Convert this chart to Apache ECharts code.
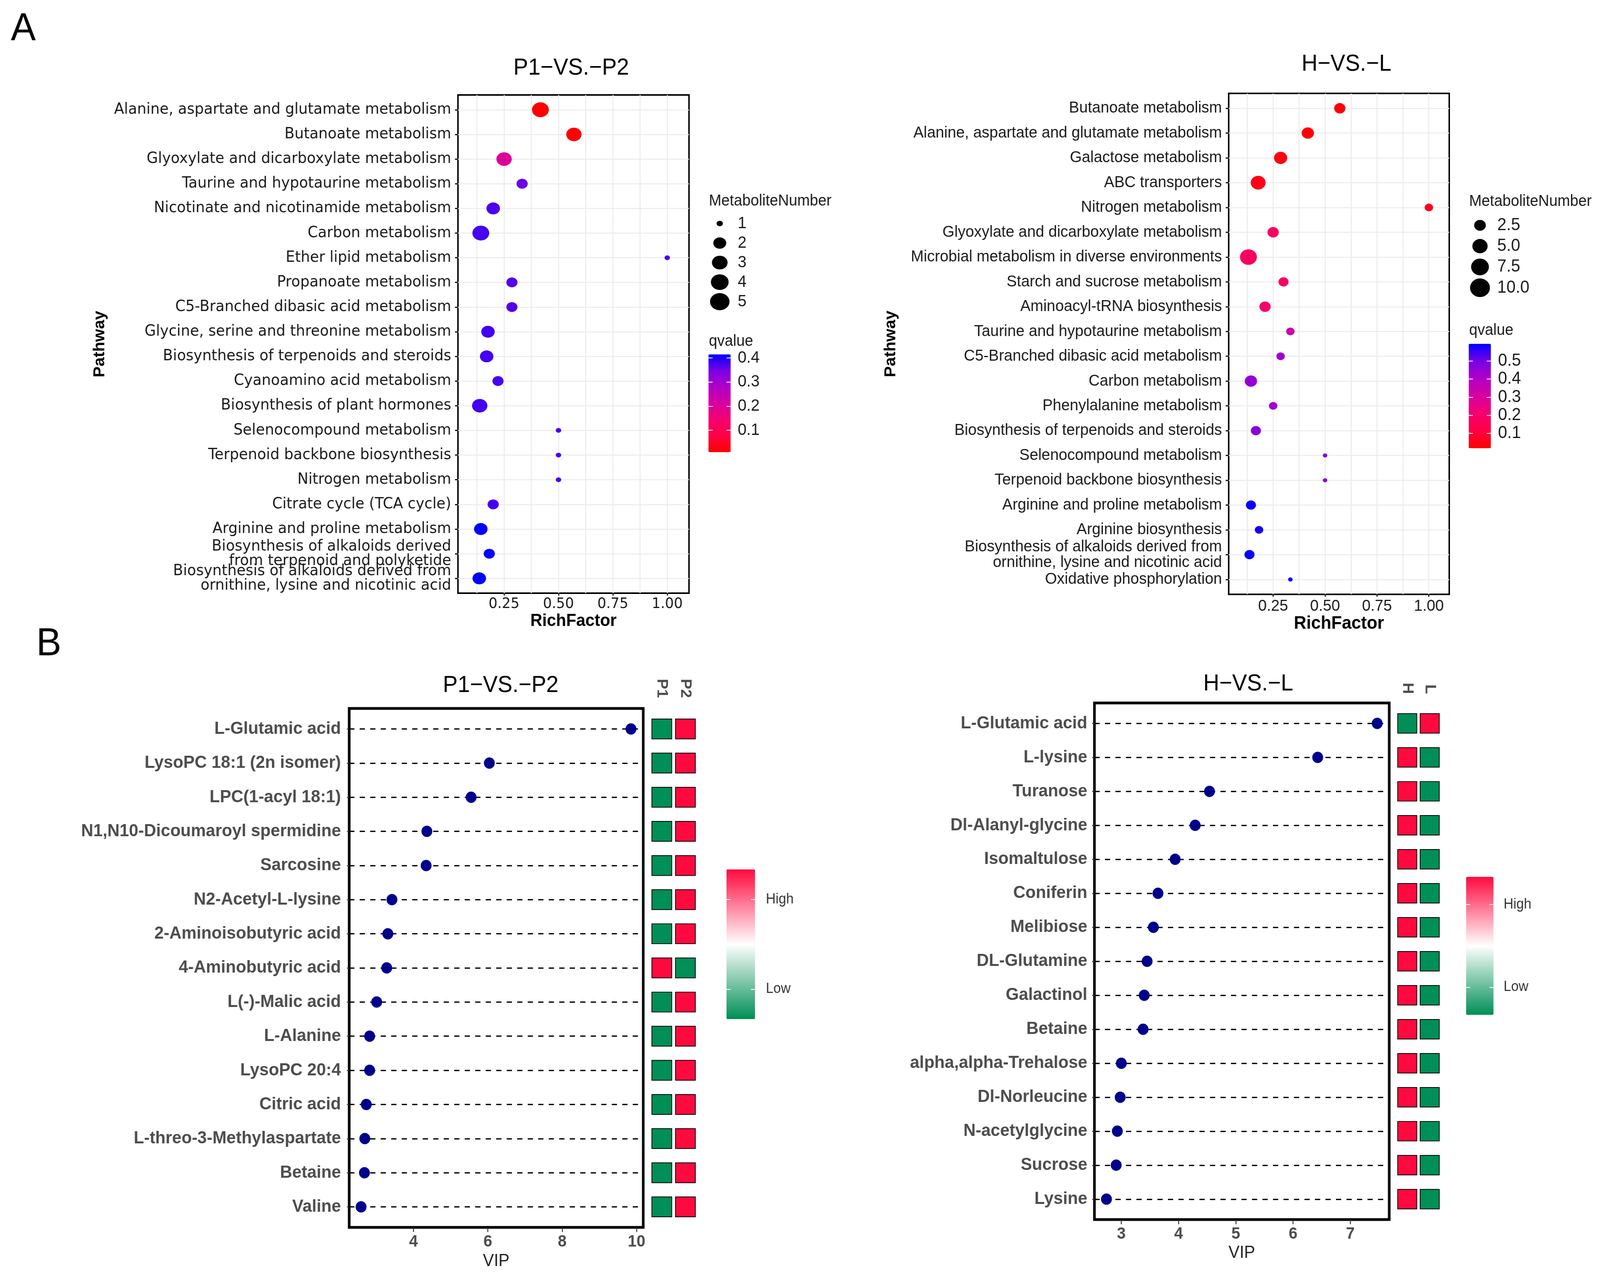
<!DOCTYPE html>
<html>
<head>
<meta charset="utf-8">
<title>Pathway enrichment and VIP</title>
<script src="https://cdn.jsdelivr.net/npm/echarts@6.0.0/dist/echarts.min.js"></script>
<style>
  html, body { margin: 0; padding: 0; background: #fff; overflow: hidden; }
  #main { width: 4266px; height: 3268px; }
</style>
</head>
<body>
<div id="main"></div>
<script>
// A 左: P1-VS.-P2 富集通路
var pathwaysP = [
  'Alanine, aspartate and glutamate metabolism',
  'Butanoate metabolism',
  'Glyoxylate and dicarboxylate metabolism',
  'Taurine and hypotaurine metabolism',
  'Nicotinate and nicotinamide metabolism',
  'Carbon metabolism',
  'Ether lipid metabolism',
  'Propanoate metabolism',
  'C5-Branched dibasic acid metabolism',
  'Glycine, serine and threonine metabolism',
  'Biosynthesis of terpenoids and steroids',
  'Cyanoamino acid metabolism',
  'Biosynthesis of plant hormones',
  'Selenocompound metabolism',
  'Terpenoid backbone biosynthesis',
  'Nitrogen metabolism',
  'Citrate cycle (TCA cycle)',
  'Arginine and proline metabolism',
  'Biosynthesis of alkaloids derived\nfrom terpenoid and polyketide',
  'Biosynthesis of alkaloids derived from\nornithine, lysine and nicotinic acid'
];
var richP = [0.417, 0.571, 0.25, 0.333, 0.2, 0.143, 1.0, 0.286, 0.286, 0.176,
             0.17, 0.222, 0.138, 0.5, 0.5, 0.5, 0.2, 0.143, 0.182, 0.136];
var countP = [5, 4, 4, 2, 3, 5, 1, 2, 2, 3, 3, 2, 4, 1, 1, 1, 2, 3, 2, 3];
var qvalueP = [0.009, 0.012, 0.2, 0.355, 0.372, 0.375, 0.372, 0.368, 0.368, 0.378,
               0.378, 0.375, 0.378, 0.375, 0.375, 0.375, 0.375, 0.413, 0.41, 0.413];

// A 右: H-VS.-L 富集通路
var pathwaysH = [
  'Butanoate metabolism',
  'Alanine, aspartate and glutamate metabolism',
  'Galactose metabolism',
  'ABC transporters',
  'Nitrogen metabolism',
  'Glyoxylate and dicarboxylate metabolism',
  'Microbial metabolism in diverse environments',
  'Starch and sucrose metabolism',
  'Aminoacyl-tRNA biosynthesis',
  'Taurine and hypotaurine metabolism',
  'C5-Branched dibasic acid metabolism',
  'Carbon metabolism',
  'Phenylalanine metabolism',
  'Biosynthesis of terpenoids and steroids',
  'Selenocompound metabolism',
  'Terpenoid backbone biosynthesis',
  'Arginine and proline metabolism',
  'Arginine biosynthesis',
  'Biosynthesis of alkaloids derived from\nornithine, lysine and nicotinic acid',
  'Oxidative phosphorylation'
];
var richH = [0.571, 0.417, 0.286, 0.178, 1.0, 0.25, 0.131, 0.3, 0.211, 0.333,
             0.286, 0.143, 0.25, 0.167, 0.5, 0.5, 0.143, 0.182, 0.136, 0.333];
var countH = [4, 5, 6, 8, 2, 4, 11, 3, 4, 2, 2, 5, 2, 3, 1, 1, 3, 2, 3, 1];
var qvalueH = [0.025, 0.03, 0.04, 0.05, 0.06, 0.17, 0.17, 0.18, 0.2, 0.33,
               0.43, 0.45, 0.43, 0.47, 0.47, 0.47, 0.59, 0.58, 0.592, 0.592];

// B 左: P1-VS.-P2 VIP
var metabolitesP = [
  'L-Glutamic acid', 'LysoPC 18:1 (2n isomer)', 'LPC(1-acyl 18:1)',
  'N1,N10-Dicoumaroyl spermidine', 'Sarcosine', 'N2-Acetyl-L-lysine',
  '2-Aminoisobutyric acid', '4-Aminobutyric acid', 'L(-)-Malic acid',
  'L-Alanine', 'LysoPC 20:4', 'Citric acid', 'L-threo-3-Methylaspartate',
  'Betaine', 'Valine'
];
var vipP = [9.85, 6.04, 5.55, 4.36, 4.34, 3.42, 3.31, 3.28, 3.01, 2.82, 2.82, 2.73, 2.69, 2.68, 2.59];
var groupsP = ['P1', 'P2'];
var levelP1 = [0, 0, 0, 0, 0, 0, 0, 1, 0, 0, 0, 0, 0, 0, 0]; // 1 = High, 0 = Low
var levelP2 = [1, 1, 1, 1, 1, 1, 1, 0, 1, 1, 1, 1, 1, 1, 1];

// B 右: H-VS.-L VIP
var metabolitesH = [
  'L-Glutamic acid', 'L-lysine', 'Turanose', 'Dl-Alanyl-glycine', 'Isomaltulose',
  'Coniferin', 'Melibiose', 'DL-Glutamine', 'Galactinol', 'Betaine',
  'alpha,alpha-Trehalose', 'Dl-Norleucine', 'N-acetylglycine', 'Sucrose', 'Lysine'
];
var vipH = [7.47, 6.43, 4.54, 4.29, 3.94, 3.64, 3.56, 3.45, 3.40, 3.38, 3.00, 2.98, 2.93, 2.91, 2.74];
var groupsH = ['H', 'L'];
var levelH = [0, 1, 1, 1, 1, 1, 1, 1, 1, 1, 1, 1, 1, 1, 1];
var levelL = [1, 0, 0, 0, 0, 0, 0, 0, 0, 0, 0, 0, 0, 0, 0];

// 刻度 / 图例
var richTicks = [0.25, 0.5, 0.75, 1.0];
var richGridLines = [0.125, 0.25, 0.375, 0.5, 0.625, 0.75, 0.875, 1.0];
var vipTicksP = [4, 6, 8, 10];
var vipTicksH = [3, 4, 5, 6, 7];
var sizeBreaksP = [1, 2, 3, 4, 5];
var sizeBreaksH = [2.5, 5, 7.5, 10];
var qTicksP = [0.1, 0.2, 0.3, 0.4];
var qTicksH = [0.1, 0.2, 0.3, 0.4, 0.5];
var levelTicks = [0.2, 0.8];
var levelNames = ['Low', 'High'];

var FONT = "'Liberation Sans', Arial, sans-serif";
var WIDE = "'DejaVu Sans', sans-serif";
var qColors = ['#FF0000', '#FF0044', '#F50070', '#D800A0', '#B000C6', '#7A00E5', '#0000FF'];
var levelColors = ['#008F56', '#FFFFFF', '#FF0A3F'];
// 原图 A 部分横向略有拉伸, 气泡画成椭圆
var ELLIPSE = 'path://M1,0A1,1,0,1,1,-1,0A1,1,0,1,1,1,0Z';

// 面积比例尺: 直径 ~ sqrt(数量)
function sP(n) { return Math.sqrt((n - 1) / 4); }
function sH(n) { return Math.sqrt((n - 1) / 10); }
function bubbleP(n) { var w = 14.5 + 30.5 * sP(n); return [w, w / 1.18]; }
function bubbleH(n) { var w = 12 + 33 * sH(n); return [w, w / 1.13]; }
function keyP(n) { return [17 + 35 * sP(n), 14 + 30 * sP(n)]; }
function keyH(n) { return [15.9 + 39.1 * sH(n), 14.2 + 35.6 * sH(n)]; }
function rowIndex(n) { var a = []; for (var i = 0; i < n; i++) a.push(i); return a; }
function everyOther(rows, start) { return rows.filter(function (r) { return r % 2 === start; }); }

function enrichData(rich, count, q) {
  var out = [];
  for (var i = 0; i < rich.length; i++) out.push([rich[i], i, count[i], q[i]]);
  return out;
}
function vipData(vip) {
  var out = [];
  for (var i = 0; i < vip.length; i++) out.push([vip[i], i]);
  return out;
}
function levelData(a, b) {
  var out = [];
  for (var i = 0; i < a.length; i++) { out.push([0, i, a[i]]); out.push([1, i, b[i]]); }
  return out;
}
function legendData(breaks) {
  var out = [];
  for (var i = 0; i < breaks.length; i++) out.push([0, i, breaks[i]]);
  return out;
}

var rowsP = rowIndex(pathwaysP.length), rowsH = rowIndex(pathwaysH.length);
var rowsBP = rowIndex(metabolitesP.length), rowsBH = rowIndex(metabolitesH.length);

function plainGrid(l, t, w, h) {
  return { left: l, top: t, width: w, height: h, outerBoundsMode: 'none', containLabel: false };
}
function boxGrid(l, t, w, h, bw) {
  var g = plainGrid(l, t, w, h);
  g.show = true; g.borderColor = '#000'; g.borderWidth = bw; g.backgroundColor = '#fff';
  return g;
}

// x 轴 (RichFactor)
function richAxis(grid, min, max, font, size, nameSize) {
  return {
    gridIndex: grid, type: 'value', min: min, max: max, position: 'bottom',
    axisLine: { show: false, onZero: false },
    axisTick: { customValues: richTicks, length: 6, lineStyle: { color: '#111', width: 3 } },
    axisLabel: { customValues: richTicks, margin: 10, fontSize: size, fontFamily: font, color: '#1a1a1a',
                 showMinLabel: true, showMaxLabel: true,
                 formatter: function (v) { return v.toFixed(2); } },
    splitLine: { show: false },
    name: 'RichFactor', nameLocation: 'middle', nameGap: 50,
    nameTextStyle: { fontSize: nameSize, fontWeight: 'bold', fontFamily: FONT, color: '#000' }
  };
}
function richMinorAxis(grid, min, max) {
  return {
    gridIndex: grid, type: 'value', min: min, max: max, position: 'top',
    axisLine: { show: false, onZero: false },
    axisTick: { show: false, customValues: richGridLines },
    axisLabel: { show: false },
    splitLine: { show: true, lineStyle: { color: '#EBEBEB', width: 2.5 } }
  };
}
// 通路名分两根重叠的轴 (偶数行/奇数行), 防止相邻两行标签互相隐藏
function pathwayAxis(grid, names, rows, font, size, lh, gap) {
  return {
    gridIndex: grid, type: 'value', inverse: true, min: -0.6, max: names.length - 0.4, position: 'left',
    axisLine: { show: false, onZero: false },
    axisTick: { customValues: rows, length: 8, lineStyle: { color: '#111', width: 3 } },
    axisLabel: { customValues: everyOther(rows, 0), margin: 18, fontSize: size, fontFamily: font, color: '#1a1a1a',
                 lineHeight: lh, showMinLabel: true, showMaxLabel: true, hideOverlap: false,
                 formatter: function (v) { return names[Math.round(v)]; } },
    splitLine: { show: true, lineStyle: { color: '#EBEBEB', width: 2.5 } },
    name: 'Pathway', nameLocation: 'middle', nameGap: gap,
    nameTextStyle: { fontSize: 42, fontWeight: 'bold', fontFamily: FONT, color: '#000' }
  };
}
function pathwayOddAxis(grid, names, rows, font, size, lh) {
  return {
    gridIndex: grid, type: 'value', inverse: true, min: -0.6, max: names.length - 0.4, position: 'left',
    axisLine: { show: false, onZero: false },
    axisTick: { show: false },
    axisLabel: { customValues: everyOther(rows, 1), margin: 18, fontSize: size, fontFamily: font, color: '#1a1a1a',
                 lineHeight: lh, showMinLabel: true, showMaxLabel: true, hideOverlap: false,
                 formatter: function (v) { return names[Math.round(v)]; } },
    splitLine: { show: false }
  };
}
function vipAxis(grid, min, max, ticks, margin, gap) {
  return {
    gridIndex: grid, type: 'value', min: min, max: max, position: 'bottom',
    axisLine: { show: false, onZero: false },
    axisTick: { customValues: ticks, length: 12, lineStyle: { color: '#333', width: 2.5 } },
    axisLabel: { customValues: ticks, margin: margin, fontSize: 42, fontWeight: 'bold', fontFamily: FONT, color: '#4D4D4D',
                 showMinLabel: true, showMaxLabel: true },
    splitLine: { show: false },
    name: 'VIP', nameLocation: 'middle', nameGap: gap,
    nameTextStyle: { fontSize: 44, fontFamily: FONT, color: '#222' }
  };
}
function metaboliteAxis(grid, names, rows, margin) {
  return {
    gridIndex: grid, type: 'value', inverse: true, min: -0.6, max: names.length - 0.4,
    axisLine: { show: false, onZero: false },
    axisTick: { customValues: rows, length: 6, lineStyle: { color: '#333', width: 2.5 } },
    axisLabel: { customValues: rows, margin: margin, fontSize: 45, fontWeight: 'bold', fontFamily: FONT, color: '#4D4D4D',
                 showMinLabel: true, showMaxLabel: true,
                 formatter: function (v) { return names[Math.round(v)]; } },
    splitLine: { show: true, lineStyle: { color: '#000', width: 3.3, type: [14, 14] } }
  };
}
function groupAxis(grid, groups, margin) {
  return {
    gridIndex: grid, type: 'category', data: groups, position: 'top',
    axisLine: { show: false, onZero: false }, axisTick: { show: false }, splitLine: { show: false },
    axisLabel: { interval: 0, rotate: 90, margin: margin, fontSize: 40, fontWeight: 'bold', fontFamily: FONT, color: '#4D4D4D' }
  };
}
function hiddenValue(grid, min, max, inverse) {
  return { gridIndex: grid, type: 'value', min: min, max: max, inverse: !!inverse, show: false,
           axisLine: { onZero: false } };
}
function legendAxis(grid, labels, margin, size) {
  return {
    gridIndex: grid, type: 'category', data: labels, inverse: true, position: 'right',
    axisLine: { show: false, onZero: false }, axisTick: { show: false }, splitLine: { show: false },
    axisLabel: { interval: 0, margin: margin, fontSize: size, fontFamily: FONT, color: '#1a1a1a' }
  };
}
// 色条刻度 (白色内刻度)
function barAxis(grid, pos, min, max, ticks, margin, size, fmt, withLabel) {
  return {
    gridIndex: grid, type: 'value', position: pos, min: min, max: max, z: 10,
    axisLine: { show: false, onZero: false },
    axisTick: { inside: true, length: 11, customValues: ticks, lineStyle: { color: '#fff', width: 2 } },
    axisLabel: { show: !!withLabel, customValues: ticks, margin: margin, fontSize: size, fontFamily: FONT,
                 showMinLabel: true, showMaxLabel: true,
                 color: withLabel === 'hl' ? '#333' : '#1a1a1a', formatter: fmt },
    splitLine: { show: false }
  };
}
var qFmt = function (v) { return v.toFixed(1); };
var lvFmt = function (v) { return levelNames[levelTicks.indexOf(v)]; };

function textTitle(text, x, y, size, align, color) {
  return {
    text: text, left: x, top: y, padding: 0, textAlign: align || 'center', textVerticalAlign: 'middle',
    textStyle: { fontSize: size, fontWeight: 'normal', fontFamily: FONT, color: color || '#000' }
  };
}

var option = {
  backgroundColor: '#fff',
  animation: false,
  title: [
    textTitle('A', 62, 75, 100),
    textTitle('B', 130, 1649, 100),
    textTitle('P1\u2212VS.\u2212P2', 1523, 175, 59),
    textTitle('H\u2212VS.\u2212L', 3590, 165, 59),
    textTitle('P1\u2212VS.\u2212P2', 1335, 1755, 59),
    textTitle('H\u2212VS.\u2212L', 3328, 1751, 59),
    textTitle('MetaboliteNumber', 1890, 515, 40, 'left', '#1a1a1a'),
    textTitle('MetaboliteNumber', 3917, 516, 40, 'left', '#1a1a1a'),
    textTitle('qvalue', 1890, 874, 40, 'left', '#1a1a1a'),
    textTitle('qvalue', 3917, 846, 40, 'left', '#1a1a1a')
  ],
  grid: [
    boxGrid(1221, 243, 616, 1275, 4),   // 0 A left
    boxGrid(3276, 239, 588, 1282, 4),   // 1 A right
    boxGrid(931, 1813, 784, 1328, 7),   // 2 B left
    boxGrid(2918, 1799, 786, 1322, 7),  // 3 B right
    plainGrid(1733, 1813, 126, 1328),   // 4 B left heat
    plainGrid(3722, 1799, 120, 1322),   // 5 B right heat
    plainGrid(1889, 547, 60, 250),      // 6 size legend left
    plainGrid(3916, 550, 60, 213),      // 7 size legend right
    plainGrid(1889, 907, 59, 250),      // 8 qvalue bar left
    plainGrid(3916, 880, 59, 267),      // 9 qvalue bar right
    plainGrid(1937, 2225, 76, 383),     // 10 High/Low left
    plainGrid(3909, 2244, 73, 353)      // 11 High/Low right
  ],
  xAxis: [
    richAxis(0, 0.038, 1.1, WIDE, 37, 44),      // 0
    richMinorAxis(0, 0.038, 1.1),               // 1
    richAxis(1, 0.036, 1.098, FONT, 41, 46),    // 2
    richMinorAxis(1, 0.036, 1.098),             // 3
    vipAxis(2, 2.27, 10.18, vipTicksP, 16, 65), // 4
    vipAxis(3, 2.53, 7.68, vipTicksH, 16, 64),  // 5
    groupAxis(4, groupsP, 27),                  // 6
    groupAxis(5, groupsH, 23),                  // 7
    hiddenValue(6, -1, 1),                      // 8
    hiddenValue(7, -1, 1),                      // 9
    hiddenValue(8, 0, 1),                       // 10
    hiddenValue(9, 0, 1),                       // 11
    hiddenValue(10, 0, 1),                      // 12
    hiddenValue(11, 0, 1)                       // 13
  ],
  yAxis: [
    pathwayAxis(0, pathwaysP, rowsP, WIDE, 39, 37, 934),   // 0
    pathwayAxis(1, pathwaysH, rowsH, FONT, 41, 40, 880),   // 1
    metaboliteAxis(2, metabolitesP, rowsBP, 22),           // 2
    metaboliteAxis(3, metabolitesH, rowsBH, 19),           // 3
    hiddenValue(4, -0.6, metabolitesP.length - 0.4, true), // 4
    hiddenValue(5, -0.6, metabolitesH.length - 0.4, true), // 5
    legendAxis(6, sizeBreaksP.map(String), 18, 42),        // 6
    legendAxis(7, sizeBreaksH.map(function (v) { return v.toFixed(1); }), 16, 44), // 7
    barAxis(8, 'right', 0.009, 0.415, qTicksP, 19, 42, qFmt, true),   // 8
    barAxis(8, 'left', 0.009, 0.415, qTicksP, 0, 42, qFmt, false),    // 9
    barAxis(9, 'right', 0.018, 0.595, qTicksH, 19, 44, qFmt, true),   // 10
    barAxis(9, 'left', 0.018, 0.595, qTicksH, 0, 44, qFmt, false),    // 11
    barAxis(10, 'right', 0, 1, levelTicks, 29, 36, lvFmt, 'hl'),      // 12
    barAxis(10, 'left', 0, 1, levelTicks, 0, 36, lvFmt, false),       // 13
    barAxis(11, 'right', 0, 1, levelTicks, 27, 36, lvFmt, 'hl'),      // 14
    barAxis(11, 'left', 0, 1, levelTicks, 0, 36, lvFmt, false),       // 15
    pathwayOddAxis(0, pathwaysP, rowsP, WIDE, 39, 37),                // 16
    pathwayOddAxis(1, pathwaysH, rowsH, FONT, 41, 40)                 // 17
  ],
  visualMap: [
    { type: 'continuous', seriesIndex: 0, dimension: 3, min: 0.009, max: 0.415, inRange: { color: qColors },
      calculable: false, left: 1889, top: 907, itemWidth: 59, itemHeight: 250, padding: 0 },
    { type: 'continuous', seriesIndex: 1, dimension: 3, min: 0.018, max: 0.595, inRange: { color: qColors },
      calculable: false, left: 3916, top: 880, itemWidth: 59, itemHeight: 267, padding: 0 },
    { type: 'continuous', seriesIndex: 4, dimension: 2, min: 0, max: 1, inRange: { color: levelColors },
      calculable: false, left: 1937, top: 2225, itemWidth: 76, itemHeight: 383, padding: 0 },
    { type: 'continuous', seriesIndex: 5, dimension: 2, min: 0, max: 1, inRange: { color: levelColors },
      calculable: false, left: 3909, top: 2244, itemWidth: 73, itemHeight: 353, padding: 0 }
  ],
  series: [
    { type: 'scatter', xAxisIndex: 0, yAxisIndex: 0, data: enrichData(richP, countP, qvalueP), z: 5,
      symbol: ELLIPSE, symbolSize: function (d) { return bubbleP(d[2]); }, itemStyle: { opacity: 1 } },
    { type: 'scatter', xAxisIndex: 2, yAxisIndex: 1, data: enrichData(richH, countH, qvalueH), z: 5,
      symbol: ELLIPSE, symbolSize: function (d) { return bubbleH(d[2]); }, itemStyle: { opacity: 1 } },
    { type: 'scatter', xAxisIndex: 4, yAxisIndex: 2, data: vipData(vipP), symbolSize: 29, z: 5,
      itemStyle: { color: '#00008B', opacity: 1 } },
    { type: 'scatter', xAxisIndex: 5, yAxisIndex: 3, data: vipData(vipH), symbolSize: 29, z: 5,
      itemStyle: { color: '#00008B', opacity: 1 } },
    { type: 'scatter', xAxisIndex: 6, yAxisIndex: 4, data: levelData(levelP1, levelP2), symbol: 'rect',
      symbolSize: [53, 51], itemStyle: { borderColor: '#000', borderWidth: 2, opacity: 1 } },
    { type: 'scatter', xAxisIndex: 7, yAxisIndex: 5, data: levelData(levelH, levelL), symbol: 'rect',
      symbolSize: [51, 50], itemStyle: { borderColor: '#000', borderWidth: 2, opacity: 1 } },
    { type: 'scatter', xAxisIndex: 8, yAxisIndex: 6, data: legendData(sizeBreaksP), symbol: ELLIPSE,
      symbolSize: function (d) { return keyP(d[2]); }, itemStyle: { color: '#000', opacity: 1 } },
    { type: 'scatter', xAxisIndex: 9, yAxisIndex: 7, data: legendData(sizeBreaksH), symbol: ELLIPSE,
      symbolSize: function (d) { return keyH(d[2]); }, itemStyle: { color: '#000', opacity: 1 } }
  ]
};

// 视口与 4266x3268 不一致时, 拉伸到整个视口
var mainEl = document.getElementById('main');
var sx = window.innerWidth / 4266, sy = window.innerHeight / 3268;
if (sx > 0 && sy > 0 && (Math.abs(sx - 1) > 0.003 || Math.abs(sy - 1) > 0.003)) {
  mainEl.style.transformOrigin = '0 0';
  mainEl.style.transform = 'scale(' + sx + ',' + sy + ')';
}
var chart = echarts.init(mainEl, null, { width: 4266, height: 3268 });
chart.setOption(option);
</script>
</body>
</html>
